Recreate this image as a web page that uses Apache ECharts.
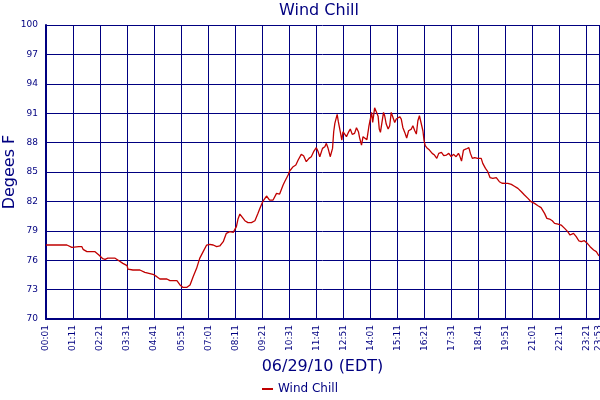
<!DOCTYPE html>
<html>
<head>
<meta charset="utf-8">
<script src="https://cdn.jsdelivr.net/npm/echarts@6/dist/echarts.min.js"></script>
<style>
  html, body { margin: 0; padding: 0; background: #fff; }
  #chart { width: 600px; height: 400px; }
</style>
</head>
<body>
<div id="chart"></div>
<script>
// minutes elapsed since 00:01 on 06/29/10
var minutes = [
  0, 54, 67, 85, 93, 96, 106, 127, 137, 147, 153, 160, 178, 186, 199, 210, 212, 225, 243, 256,
  277, 287, 295, 313, 321, 339, 341, 347, 354, 365, 373, 381, 390, 398, 407, 416, 424, 433, 442, 450,
  459, 467, 476, 485, 493, 497, 502, 506, 515, 523, 532, 541, 549, 554, 562, 571, 579, 588, 597, 605,
  614, 618, 627, 631, 640, 647, 653, 661, 667, 674, 681, 687, 693, 700, 704, 709, 716, 722, 726, 730,
  736, 742, 745, 748, 754, 757, 762, 766, 769, 774, 778, 783, 788, 793, 799, 804, 809, 812, 817, 821,
  826, 831, 836, 839, 843, 846, 851, 855, 860, 863, 866, 870, 874, 877, 881, 886, 890, 894, 898, 903,
  907, 911, 916, 920, 924, 929, 934, 939, 946, 950, 955, 959, 963, 967, 972, 976, 979, 982, 986, 993,
  1000, 1006, 1012, 1017, 1024, 1030, 1037, 1043, 1049, 1055, 1062, 1068, 1071, 1076, 1081, 1088, 1095, 1099, 1104, 1110,
  1114, 1118, 1127, 1131, 1138, 1144, 1150, 1157, 1166, 1174, 1181, 1190, 1196, 1205, 1213, 1222, 1231, 1239, 1248, 1256,
  1265, 1274, 1282, 1291, 1297, 1304, 1311, 1317, 1326, 1334, 1343, 1351, 1357, 1366, 1373, 1380, 1386, 1394, 1400, 1409,
  1418, 1425, 1432
];

// wind chill, degrees F
var windChill = [
  77.55, 77.55, 77.31, 77.38, 77.38, 77.11, 76.87, 76.87, 76.53, 76.15, 76.09, 76.22, 76.22, 76.02, 75.68, 75.44, 75.10, 75.00, 75.00, 74.76,
  74.56, 74.32, 74.08, 74.08, 73.91, 73.91, 73.71, 73.47, 73.23, 73.23, 73.47, 74.32, 75.17, 76.19, 76.87, 77.55, 77.62, 77.55, 77.38, 77.45,
  77.89, 78.74, 78.91, 78.84, 79.42, 80.17, 80.71, 80.61, 80.03, 79.83, 79.83, 80.03, 80.78, 81.29, 82.04, 82.55, 82.14, 82.14, 82.82, 82.75,
  83.67, 84.00, 84.69, 85.10, 85.54, 85.71, 86.22, 86.80, 86.66, 86.05, 86.39, 86.56, 87.07, 87.48, 87.14, 86.56, 87.41, 87.58, 87.92, 87.48,
  86.56, 87.41, 89.11, 89.96, 90.88, 90.13, 89.11, 88.26, 89.11, 89.28, 88.60, 89.04, 89.38, 88.84, 88.94, 89.52, 89.11, 88.50, 87.75, 88.60,
  88.50, 88.30, 89.62, 90.23, 91.08, 90.06, 91.55, 91.35, 90.70, 89.38, 89.04, 90.06, 91.08, 90.74, 89.89, 89.38, 89.72, 91.08, 90.91, 90.06,
  90.40, 90.23, 90.64, 90.40, 89.55, 89.04, 88.47, 89.21, 89.38, 89.72, 89.21, 88.87, 90.23, 90.74, 90.57, 89.21, 88.20, 87.69, 87.48, 87.24,
  86.90, 86.73, 86.39, 86.90, 87.00, 86.67, 86.73, 86.90, 86.56, 86.80, 86.56, 86.90, 86.67, 86.12, 87.24, 87.35, 87.48, 86.90, 86.39, 86.46,
  86.33, 86.39, 86.39, 85.88, 85.37, 85.03, 84.42, 84.35, 84.42, 84.01, 83.85, 83.84, 83.84, 83.74, 83.55, 83.33, 82.99, 82.65, 82.31, 81.97,
  81.80, 81.56, 81.36, 80.78, 80.27, 80.20, 80.03, 79.76, 79.69, 79.59, 79.25, 78.91, 78.57, 78.74, 78.40, 77.96, 77.89, 77.99, 77.79, 77.38,
  77.04, 76.87, 76.43
];

var yBase = 70;      // bottom of the temperature axis
var yTop = 100;
var yStep = 3;
var xStep = 70;      // label every 70 minutes
var xSpan = 1432;    // 00:01 .. 23:53

var navy = '#000080';
var font = 'DejaVu Sans';

function clock(m) {
  var total = m + 1;
  var hh = Math.floor(total / 60), mm = total % 60;
  return (hh < 10 ? '0' : '') + hh + ':' + (mm < 10 ? '0' : '') + mm;
}

var chart = echarts.init(document.getElementById('chart'));

chart.setOption({
  animation: false,
  title: {
    text: 'Wind Chill',
    left: 314,
    textAlign: 'center',
    top: -2,
    textStyle: { color: navy, fontFamily: font, fontSize: 16, fontWeight: 'normal' }
  },
  legend: {
    bottom: 0,
    left: 'center',
    icon: 'rect',
    itemWidth: 11,
    itemHeight: 2,
    itemGap: 4,
    textStyle: { color: navy, fontFamily: font, fontSize: 12 },
    data: ['Wind Chill']
  },
  grid: { left: 46, right: 1, top: 25, bottom: 81, outerBoundsMode: 'none', containLabel: false },
  xAxis: {
    type: 'value',
    min: 0,
    max: xSpan,
    interval: xStep,
    name: '06/29/10 (EDT)',
    nameLocation: 'middle',
    nameGap: 40,
    nameMoveOverlap: false,
    nameTextStyle: { color: navy, fontFamily: font, fontSize: 16 },
    axisLine: { show: true, lineStyle: { color: navy, width: 2 } },
    axisTick: { show: false },
    axisLabel: {
      rotate: 90,
      margin: 6,
      color: navy,
      fontFamily: font,
      fontSize: 9,
      showMinLabel: true,
      showMaxLabel: true,
      formatter: clock
    },
    splitLine: { show: true, lineStyle: { color: navy, width: 1 } }
  },
  yAxis: {
    type: 'value',
    min: 0,
    max: yTop - yBase,
    interval: yStep,
    name: 'Degees F',
    nameLocation: 'middle',
    nameGap: 28,
    nameMoveOverlap: false,
    nameTextStyle: { color: navy, fontFamily: font, fontSize: 16 },
    axisLine: { show: true, lineStyle: { color: navy, width: 2 } },
    axisTick: { show: false },
    axisLabel: {
      margin: 8,
      color: navy,
      fontFamily: font,
      fontSize: 9,
      formatter: function (v) { return String(v + yBase); }
    },
    splitLine: { show: true, lineStyle: { color: navy, width: 1 } }
  },
  series: [
    {
      name: 'Wind Chill',
      type: 'line',
      symbol: 'none',
      color: '#c00000',
      lineStyle: { width: 1.3 },
      data: minutes.map(function (m, i) { return [m, windChill[i] - yBase]; })
    }
  ]
});
</script>
</body>
</html>
